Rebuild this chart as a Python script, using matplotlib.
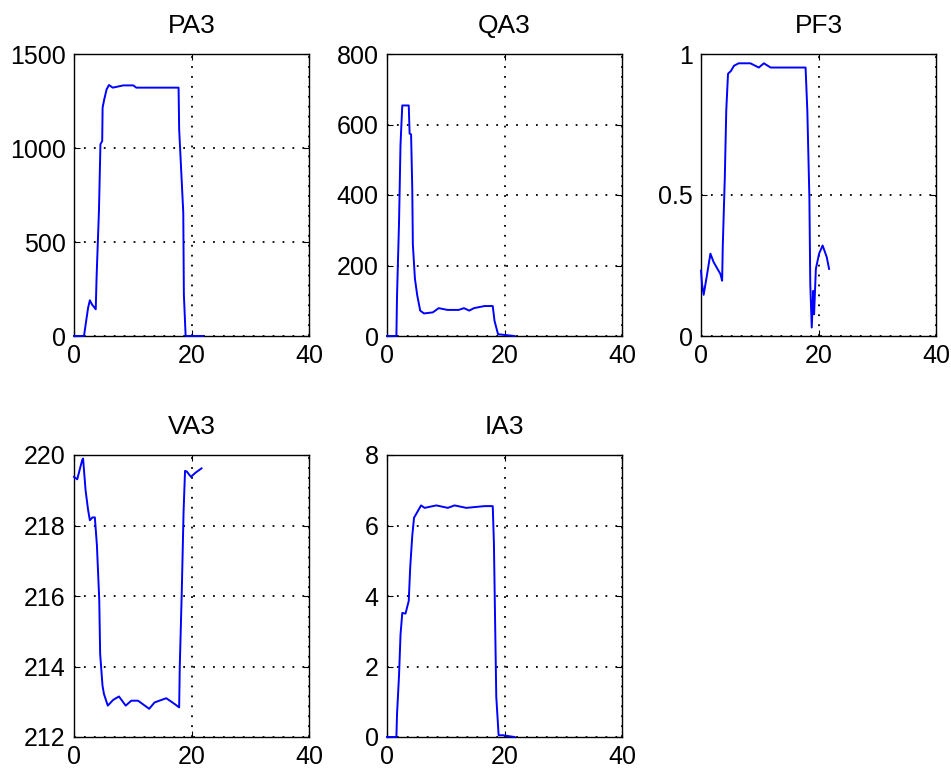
import numpy as np
import matplotlib
matplotlib.use("Agg")
import matplotlib.pyplot as plt

plt.rcParams['font.family'] = ['Liberation Sans', 'DejaVu Sans']

# PA3
pa_x = [0, 1.7, 2.15, 2.4, 2.7, 3.06, 3.7, 3.85, 4.25, 4.5, 4.8, 4.87, 5.15, 5.55, 5.95,
        6.6, 8.4, 10.1, 10.6, 17.8, 17.9, 18.6, 18.7, 19.0, 21.98]
pa_y = [0, 0, 97, 150, 190, 168, 142, 319, 668, 1020, 1037, 1215, 1259, 1312, 1335,
        1321, 1333, 1333, 1321, 1321, 1099, 656, 222, 0, 0]

# QA3
qa_x = [0, 1.6, 1.7, 2.05, 2.3, 2.6, 3.7, 3.85, 4.1, 4.3, 4.4, 4.75, 5.15, 5.65, 6.3,
        7.8, 8.8, 10.3, 12.2, 13.1, 14.0, 14.8, 16.6, 18.0, 18.3, 18.9, 21.7]
qa_y = [0, 0, 110, 324, 543, 654, 654, 574, 572, 418, 260, 163, 115, 72, 64,
        67, 79, 74, 74, 79, 72, 79, 85, 85, 43, 5, 0]

# PF3
pf_x = [0, 0.17, 0.45, 1.0, 1.6, 2.15, 3.3, 3.6, 3.7, 4.05, 4.3, 4.6, 5.1, 5.6, 6.4,
        8.4, 9.85, 10.7, 11.85, 17.8, 18.1, 18.45, 18.6, 18.85, 19.1, 19.25, 19.55,
        20.1, 20.7, 21.4, 21.8]
pf_y = [0.232, 0.185, 0.146, 0.214, 0.292, 0.262, 0.22, 0.196, 0.315, 0.56, 0.80, 0.93,
        0.94, 0.958, 0.967, 0.967, 0.952, 0.967, 0.952, 0.952, 0.798, 0.488, 0.185,
        0.03, 0.16, 0.077, 0.238, 0.292, 0.321, 0.28, 0.238]

# VA3
va_x = [0, 0.55, 0.95, 1.4, 1.55, 1.7, 1.97, 2.4, 2.7, 3.15, 3.55, 3.9, 4.3, 4.45, 4.85,
        5.1, 5.75, 6.65, 7.65, 8.8, 9.75, 10.9, 12.8, 13.7, 15.7, 17.1, 17.9, 18.0,
        18.35, 18.65, 18.9, 19.2, 19.9, 20.7, 21.7]
va_y = [219.38, 219.31, 219.57, 219.86, 219.9, 219.57, 219.0, 218.44, 218.15, 218.23,
        218.23, 217.44, 215.88, 214.36, 213.46, 213.22, 212.89, 213.05, 213.15, 212.89,
        213.03, 213.03, 212.8, 212.98, 213.1, 212.94, 212.84, 213.98, 216.16, 218.39,
        219.55, 219.53, 219.38, 219.5, 219.62]

# IA3
ia_x = [0, 1.6, 1.7, 2.05, 2.3, 2.6, 3.15, 3.7, 3.95, 4.3, 4.6, 5.15, 5.8, 6.4, 8.4,
        10.35, 11.5, 13.5, 16.6, 18.0, 18.2, 18.4, 18.6, 19.0, 19.7, 21.7]
ia_y = [0, 0, 0.62, 1.76, 2.9, 3.52, 3.5, 3.86, 4.81, 5.71, 6.22, 6.38, 6.57, 6.5, 6.57,
        6.5, 6.57, 6.5, 6.55, 6.55, 5.48, 3.29, 1.14, 0.05, 0.05, 0]

titles = ["PA3", "QA3", "PF3", "VA3", "IA3"]
series = [(pa_x, pa_y), (qa_x, qa_y), (pf_x, pf_y), (va_x, va_y), (ia_x, ia_y)]
ylims = [(0, 1500), (0, 800), (0, 1), (212, 220), (0, 8)]
yticks = [[0, 500, 1000, 1500], [0, 200, 400, 600, 800], [0, 0.5, 1],
          [212, 214, 216, 218, 220], [0, 2, 4, 6, 8]]
yticklabels = [["0", "500", "1000", "1500"], ["0", "200", "400", "600", "800"],
               ["0", "0.5", "1"], ["212", "214", "216", "218", "220"],
               ["0", "2", "4", "6", "8"]]
xticks = [0, 20, 40]

fig = plt.figure(figsize=(9.51, 7.72), dpi=100)
W, H = 951, 772
boxes = [(74, 54), (387, 54), (701, 54), (74, 455), (387, 455)]
aw, ah = 235, 282

for i in range(5):
    lx, ty = boxes[i]
    ax = fig.add_axes([lx / W, 1 - (ty + ah) / H, aw / W, ah / H])
    x, y = series[i]
    ax.plot(x, y, color=(0, 0, 1), lw=1.4, zorder=5, clip_on=False)
    ax.set_xlim(0, 40)
    ax.set_ylim(*ylims[i])
    ax.set_xticks(xticks)
    ax.set_xticklabels([str(v) for v in xticks])
    ax.set_yticks(yticks[i])
    ax.set_yticklabels(yticklabels[i])
    ax.grid(True, color='black', linestyle=(0, (1, 4.5)), lw=1.3)
    ax.tick_params(direction='in', length=4, width=0.8, top=True, right=True,
                   labelsize=18, pad=6)
    for s in ax.spines.values():
        s.set_linewidth(1.0)
    ax.set_title(titles[i], fontsize=19, pad=15)

fig.savefig("out.png", dpi=100)
